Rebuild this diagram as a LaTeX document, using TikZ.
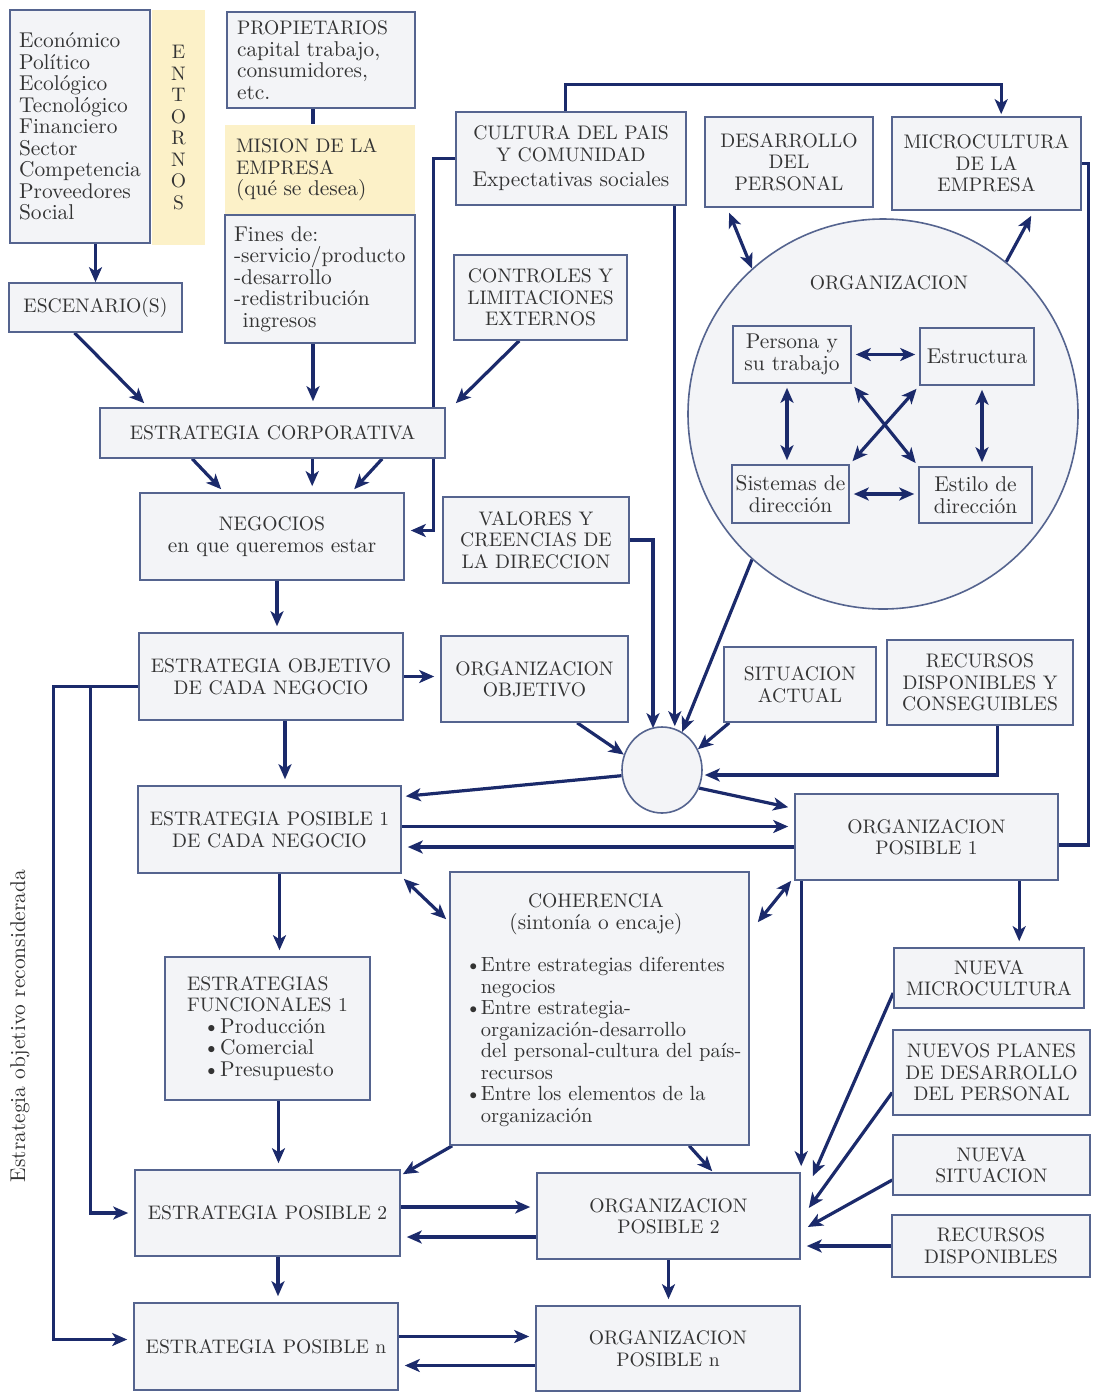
\documentclass[tikz,border=0pt]{standalone}
\usepackage{fontspec}
\usetikzlibrary{arrows.meta,calc,shapes.geometric,backgrounds}
\definecolor{navy}{HTML}{1B2A6B}
\definecolor{boxc}{HTML}{55648F}
\definecolor{boxf}{HTML}{F3F4F7}
\definecolor{ylw}{HTML}{FCF1C8}
\definecolor{txtc}{HTML}{333333}
\newcommand\fs{\fontsize{9.8pt}{10.75pt}\selectfont}
\newcommand\fl{\fontsize{10.7pt}{10.75pt}\selectfont}
\newcommand\fm{\fontsize{10.25pt}{10.75pt}\selectfont}
\newcommand\bx[7][]{\node[boxs,minimum width={(#5-#3)*0.5pt},minimum height={(#6-#4)*0.5pt},#1] (#2) at ({(#3+#5)/2},{(#4+#6)/2}) {#7};}
\newcommand\cb{\makebox[0.75em][l]{\textbullet}}
\newcommand\ci{\hspace*{0.75em}}
\newcommand\fb{\hspace*{0.75em}\makebox[0.8em][l]{\textbullet}}
\begin{document}
\begin{tikzpicture}[x=0.5pt,y=-0.5pt,
 >={Stealth[length=7.5pt,width=6.5pt,inset=2pt]},
 boxs/.style={draw=boxc,fill=boxf,line width=0.8pt,inner sep=0pt,align=center,text=txtc,font=\fs},
 txt/.style={inner sep=0pt,align=center,text=txtc,font=\fs},
 arr/.style={draw=navy,line width=1.6pt,->},
 arrs/.style={arr,shorten >=3pt},
 darr/.style={draw=navy,line width=1.6pt,<->},
 darrs/.style={darr,shorten >=2pt,shorten <=2pt},
 ln/.style={draw=navy,line width=1.6pt}]
\useasboundingbox (0,0) rectangle (1101,1393);
% ---------- nodes
\bx[align=left,font=\fl]{ent}{10}{10}{150}{243}{Económico\\Político\\Ecológico\\Tecnológico\\Financiero\\Sector\\Competencia\\Proveedores\\Social}
\bx[draw=none,fill=ylw]{entl}{152}{10}{205}{245}{E\\N\\T\\O\\R\\N\\O\\S}
\bx[align=left,text width=84pt]{prop}{227}{12}{415}{108}{PROPIETARIOS\\{\fl capital trabajo,}\\{\fl consumidores,}\\{\fl etc.}}
\bx[draw=none,fill=ylw,align=left,text width=84pt]{mis}{225}{125}{415}{215}{MISION DE LA\\EMPRESA\\{\fl (qué se desea)}}
\bx[align=left,text width=86pt,font=\fl]{fin}{225}{215}{415}{343}{Fines de:\\-servicio/producto\\-desarrollo\\-redistribución\\\hspace*{0.4em}ingresos}
\bx{esc}{9}{283}{182}{332}{ESCENARIO(S)}
\bx{corp}{100}{408}{445}{458}{ESTRATEGIA CORPORATIVA}
\bx{ctrl}{454}{255}{627}{340}{CONTROLES Y\\LIMITACIONES\\EXTERNOS}
\bx{cult}{456}{112}{686}{205}{CULTURA DEL PAIS\\Y COMUNIDAD\\[2pt]{\fl Expectativas sociales}}
\bx{desa}{705}{117}{873}{207}{DESARROLLO\\DEL\\PERSONAL}
\bx{micro}{892}{117}{1081}{210}{MICROCULTURA\\DE LA\\EMPRESA}
\node[circle,draw=boxc,fill=boxf,line width=0.8pt,minimum size=195pt,inner sep=0pt] (org) at (883,414) {};
\node[txt] (orgt) at (889,283) {ORGANIZACION};
\bx[font=\fl]{per}{733}{326}{851}{383}{Persona y\\su trabajo}
\bx[font=\fl]{estr}{920}{328}{1034}{385}{Estructura}
\bx[font=\fl]{sis}{732}{465}{849}{523}{Sistemas de\\dirección}
\bx[font=\fl]{esti}{919}{467}{1032}{523}{Estilo de\\dirección}
\bx{neg}{140}{493}{404}{580}{NEGOCIOS\\{\fl en que queremos estar}}
\bx{val}{443}{497}{629}{583}{VALORES Y\\CREENCIAS DE\\LA DIRECCION}
\bx{eobj}{139}{633}{403}{720}{ESTRATEGIA OBJETIVO\\DE CADA NEGOCIO}
\bx{oobj}{441}{636}{628}{722}{ORGANIZACION\\OBJETIVO}
\bx{sit}{724}{647}{876}{722}{SITUACION\\ACTUAL}
\bx{rec}{887}{640}{1073}{725}{RECURSOS\\DISPONIBLES Y\\CONSEGUIBLES}
\node[ellipse,draw=boxc,fill=boxf,line width=0.8pt,minimum width=40pt,minimum height=43pt,inner sep=0pt] (sc) at (662,770) {};
\bx{ep1}{138}{786}{401}{873}{ESTRATEGIA POSIBLE 1\\DE CADA NEGOCIO}
\bx{op1}{795}{794}{1058}{880}{ORGANIZACION\\POSIBLE 1}
\bx{coh}{450}{872}{749}{1145}{}
\node[txt] (coht) at (596,914) {COHERENCIA\\{\fl (sintonía o encaje)}};
\node[txt,align=left,anchor=north west,font=\fm] (cohl) at (465,957) {\cb Entre estrategias diferentes\\\ci negocios\\\cb Entre estrategia-\\\ci organización-desarrollo\\\ci del personal-cultura del país-\\\ci recursos\\\cb Entre los elementos de la\\\ci organización};
\bx[align=left]{ef}{165}{957}{370}{1100}{ESTRATEGIAS\\FUNCIONALES 1\\{\fl\fb Producción}\\{\fl\fb Comercial}\\{\fl\fb Presupuesto}}
\bx{ep2}{135}{1170}{400}{1256}{ESTRATEGIA POSIBLE 2}
\bx{op2}{537}{1173}{800}{1259}{ORGANIZACION\\POSIBLE 2}
\bx{epn}{134}{1303}{398}{1390}{ESTRATEGIA POSIBLE n}
\bx{opn}{536}{1306}{800}{1391}{ORGANIZACION\\POSIBLE n}
\bx{nmic}{894}{948}{1084}{1008}{NUEVA\\MICROCULTURA}
\bx{npl}{893}{1030}{1090}{1115}{NUEVOS PLANES\\DE DESARROLLO\\DEL PERSONAL}
\bx{nsit}{893}{1135}{1090}{1195}{NUEVA\\SITUACION}
\bx{rdis}{892}{1215}{1090}{1277}{RECURSOS\\DISPONIBLES}
\node[txt,rotate=90,font=\fl] (rot) at (20,1026) {Estrategia objetivo reconsiderada};
% ---------- arrows inside the big circle
\draw[darrs] (per.east) -- (per.east -| estr.west);
\draw[darrs] (sis.east) -- (sis.east -| esti.west);
\coordinate (v1) at ($(per.south)+(-5,0)$);
\draw[darrs] (v1) -- (v1 |- sis.north);
\coordinate (v2) at ($(estr.south)+(5,0)$);
\draw[darrs] (v2) -- (v2 |- esti.north);
\draw[darrs] (per.south east) -- (esti.north west);
\draw[darrs] (estr.south west) -- (sis.north east);
% ---------- connectors
\begin{scope}[on background layer]
\fill[white] (0,0) rectangle (1101,1393);
\draw[arr] (esc.north |- ent.south) -- (esc.north);
\draw[ln] ($(prop.south)+(-8,0)$) -- ($(mis.north)+(-7,0)$);
\coordinate (f0) at ($(fin.south)+(-7,0)$);
\draw[arrs] (f0) -- (f0 |- corp.north);
\draw[arr] ($(esc.south west)!0.38!(esc.south east)$) -- ($(corp.north west)+(45,-4)$);
\draw[arr] ($(ctrl.south west)+(66,0)$) -- ($(corp.north east)+(10,-4)$);
\draw[arrs] (cult.west) -- ++(-22,0) |- ($(neg.east)+(0,-6)$);
\draw[arr] ($(cult.north west)+(110,0)$) -- ++(0,-27) -| ($(micro.north west)+(110,-2)$);
\coordinate (c1) at ($(cult.south east)+(-12,0)$);
\draw[arr] (c1) -- (c1 |- sc.north);
\draw[arr] (val.east) -| ($(sc.north)+(-9,2)$);
\draw[arr] (org.228) -- (sc.62);
\draw[arr] ($(oobj.south west)+(137,0)$) -- (sc.158);
\draw[arr] ($(sit.south west)+(6,0)$) -- (sc.30);
\draw[arr] ($(rec.south west)+(111,0)$) |- ($(sc.east)+(2,5)$);
\draw[arr] (sc.188) -- ($(ep1.north east)+(4,11)$);
\draw[arr] (sc.-26) -- ($(op1.north west)+(-6,14)$);
\coordinate (e1a) at ($(ep1.east)+(0,-3)$);
\draw[arrs] (e1a) -- (e1a -| op1.west);
\coordinate (o1a) at ($(op1.west)+(0,10)$);
\draw[arrs] (o1a) -- (o1a -| ep1.east);
\draw[ln] ($(op1.east)+(0,8)$) -- ++(30,0) |- (micro.east);
\draw[arr] ($(corp.south west)+(93,0)$) -- ($(neg.north west)+(82,-3)$);
\coordinate (k2) at ($(corp.south west)+(213,0)$);
\draw[arrs] (k2) -- (k2 |- neg.north);
\draw[arr] ($(corp.south west)+(283,0)$) -- ($(neg.north west)+(215,-3)$);
\coordinate (n1) at ($(neg.south)+(5,0)$);
\draw[arrs] (n1) -- (n1 |- eobj.north);
\draw[arrs] (eobj.east) -- (eobj.east -| oobj.west);
\coordinate (eo1) at ($(eobj.south)+(14,0)$);
\draw[arrs] (eo1) -- (eo1 |- ep1.north);
\draw[arrs] ($(eobj.west)+(0,10)$) -| ($(ep2.west)+(-44,0)$) -- (ep2.west);
\draw[arrs] ($(eobj.west)+(0,10)$) -| ($(epn.west)+(-80,-7)$) -- ($(epn.west)+(0,-7)$);
\draw[darr] ($(ep1.south east)+(2,5)$) -- ($(coh.north west)+(-3,48)$);
\draw[darr] ($(op1.south west)+(-3,0)$) -- ($(coh.north east)+(8,51)$);
\coordinate (f1) at ($(ef.north)+(12,0)$);
\draw[arrs] (f1 |- ep1.south) -- (f1);
\coordinate (f2) at ($(ef.south)+(11,0)$);
\draw[arrs] (f2) -- (f2 |- ep2.north);
\draw[arr] ($(coh.south west)+(3,0)$) -- ($(ep2.north east)+(2,5)$);
\draw[arr] ($(coh.south west)+(240,0)$) -- ($(op2.north west)+(176,-1)$);
\coordinate (p1) at ($(op1.south west)+(7,0)$);
\draw[arrs] (p1) -- (p1 |- op2.north);
\coordinate (p2) at ($(op1.south west)+(225,0)$);
\draw[arrs] (p2) -- (p2 |- nmic.north);
\coordinate (q1) at ($(ep2.east)+(0,-6)$);
\draw[arrs] (q1) -- (q1 -| op2.west);
\coordinate (q2) at ($(op2.west)+(0,21)$);
\draw[arrs] (q2) -- (q2 -| ep2.east);
\coordinate (q3) at ($(ep2.south)+(10.5,0)$);
\draw[arrs] (q3) -- (q3 |- epn.north);
\draw[arrs] (op2.south) -- (op2.south |- opn.north);
\coordinate (r1) at ($(epn.east)+(0,-10)$);
\draw[arrs] (r1) -- (r1 -| opn.west);
\coordinate (r2) at ($(opn.west)+(0,17)$);
\draw[arrs] (r2) -- (r2 -| epn.east);
\draw[arr] ($(nmic.west)+(0,15)$) -- ($(op2.north east)+(12,4)$);
\draw[arr] ($(npl.west)+(0,20)$) -- ($(op2.east)+(8,-8)$);
\draw[arr] ($(nsit.west)+(0,15)$) -- ($(op2.east)+(7,11)$);
\draw[arrs] (rdis.west) -- (rdis.west -| op2.east);
\draw[darr] ($(desa.south west)+(25,5)$) -- (org.132);
\draw[arr] (org.51) -- ($(micro.south west)+(140,5)$);
\end{scope}
\end{tikzpicture}
\end{document}
